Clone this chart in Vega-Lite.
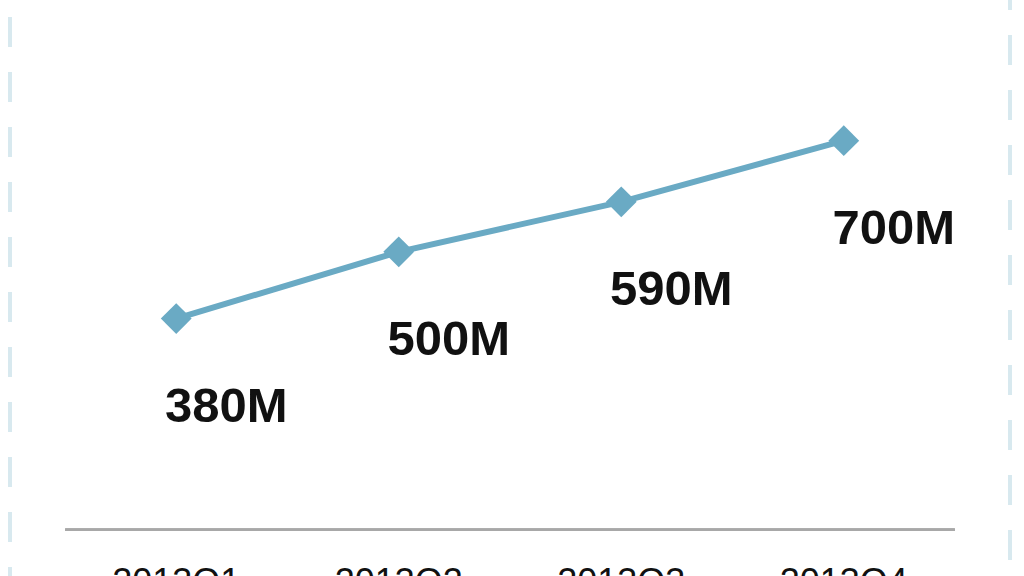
{
  "$schema": "https://vega.github.io/schema/vega-lite/v6.json",
  "width": 1000,
  "height": 596,
  "autosize": "none",
  "padding": {"left": 10, "top": -10, "right": 14, "bottom": -10},
  "background": "white",
  "config": {
    "view": {"stroke": "#d8e9ef", "strokeWidth": 4, "strokeDash": [30, 25]},
    "font": "Liberation Sans"
  },
  "data": {
    "values": [
      {"quarter": "2013Q1", "users": 380, "label": "380M"},
      {"quarter": "2013Q2", "users": 500, "label": "500M"},
      {"quarter": "2013Q3", "users": 590, "label": "590M"},
      {"quarter": "2013Q4", "users": 700, "label": "700M"}
    ]
  },
  "encoding": {
    "x": {
      "field": "quarter",
      "type": "ordinal",
      "scale": {"type": "band", "paddingInner": 0, "paddingOuter": 0.247},
      "axis": {
        "orient": "bottom",
        "offset": -56,
        "domain": false,
        "ticks": false,
        "grid": false,
        "title": null,
        "labelAngle": 0,
        "labelPadding": 35,
        "labelFontSize": 36,
        "labelFont": "Liberation Sans",
        "labelColor": "#111111"
      }
    },
    "y": {
      "field": "users",
      "type": "quantitative",
      "scale": {"domain": [-101, 971]},
      "axis": null
    }
  },
  "layer": [
    {
      "mark": {"type": "rule", "color": "#a8a8a8", "strokeWidth": 2.5, "xOffset": -111, "x2Offset": 111},
      "encoding": {
        "x": {"datum": "2013Q1", "type": "ordinal"},
        "x2": {"datum": "2013Q4"},
        "y": {"datum": 0, "type": "quantitative"}
      }
    },
    {
      "mark": {"type": "line", "color": "#6aaac4", "strokeWidth": 6}
    },
    {
      "mark": {"type": "point", "shape": "diamond", "filled": true, "size": 950, "color": "#6aaac4", "opacity": 1}
    },
    {
      "mark": {
        "type": "text",
        "fontSize": 49,
        "fontWeight": "bold",
        "color": "#111111",
        "align": "center",
        "baseline": "middle",
        "dx": 50,
        "dy": 88
      },
      "encoding": {"text": {"field": "label"}}
    }
  ]
}
